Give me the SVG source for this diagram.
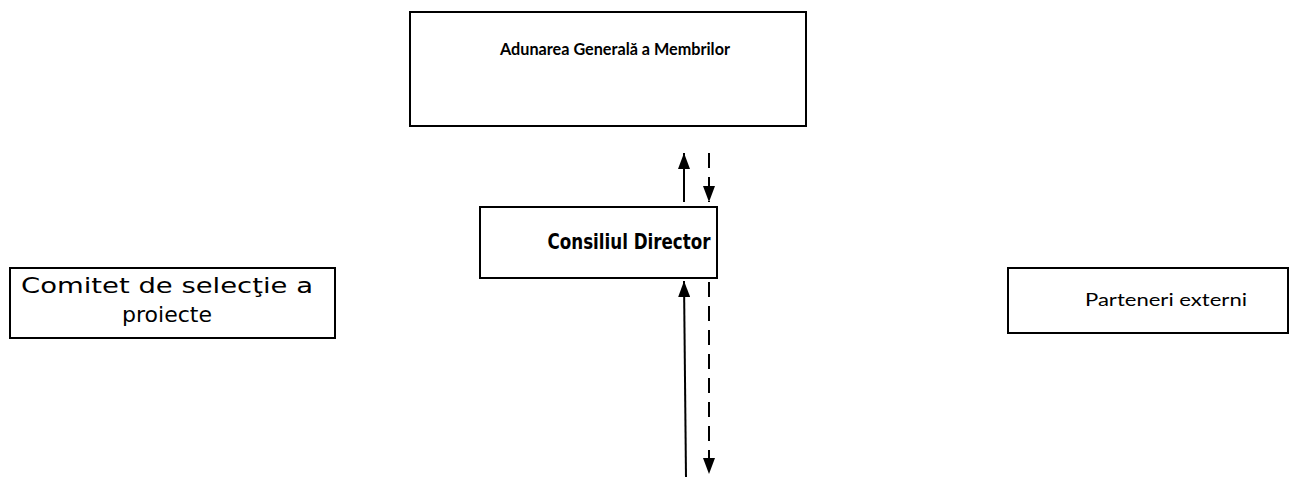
<svg xmlns="http://www.w3.org/2000/svg" width="1296" height="477" viewBox="0 0 1296 477">
  <style>
    .box { fill: #ffffff; stroke: #000000; stroke-width: 2; }
    .calibri { font-family: Lato, "Open Sans", "Liberation Sans", sans-serif; fill: #000000; }
    .tahoma { font-family: "DejaVu Sans", "Liberation Sans", sans-serif; fill: #000000; }
    .tahomab { font-family: "DejaVu Sans Condensed", "DejaVu Sans", "Liberation Sans", sans-serif; font-weight: bold; fill: #000000; }
    .solid { stroke: #000000; stroke-width: 2; fill: none; }
    .dashed { stroke: #000000; stroke-width: 2; fill: none; stroke-dasharray: 15 9; }
  </style>
  <defs>
    <marker id="head" viewBox="0 0 16 12" refX="16" refY="6" markerWidth="16" markerHeight="12" markerUnits="userSpaceOnUse" orient="auto">
      <path d="M0,0 L16,6 L0,12 Z" fill="#000000"/>
    </marker>
  </defs>
  <rect width="1296" height="477" fill="#ffffff"/>

  <g id="node-adunarea">
    <rect class="box" x="410" y="12" width="396" height="114"/>
    <text class="calibri" x="615" y="55" font-size="17" font-weight="bold" text-anchor="middle" textLength="230" lengthAdjust="spacingAndGlyphs">Adunarea Generală a Membrilor</text>
  </g>

  <g id="node-consiliul">
    <rect class="box" x="480" y="207" width="237" height="71"/>
    <text class="tahomab" x="629" y="249" font-size="21" text-anchor="middle" textLength="163" lengthAdjust="spacingAndGlyphs">Consiliul Director</text>
  </g>

  <g id="node-comitet">
    <rect class="box" x="10" y="268" width="325" height="70"/>
    <text class="tahoma" x="167" y="293" font-size="22" text-anchor="middle" textLength="292" lengthAdjust="spacingAndGlyphs">Comitet de selecţie a</text>
    <text class="tahoma" x="167" y="322" font-size="22" text-anchor="middle">proiecte</text>
  </g>

  <g id="node-parteneri">
    <rect class="box" x="1008" y="268" width="280" height="65"/>
    <text class="calibri" x="1166" y="306" font-size="18" text-anchor="middle" textLength="162" lengthAdjust="spacingAndGlyphs">Parteneri externi</text>
  </g>

  <g id="connectors">
    <line class="solid" x1="684" y1="202" x2="684" y2="153" marker-end="url(#head)"/>
    <line class="dashed" x1="709" y1="153" x2="709" y2="202" marker-end="url(#head)"/>
    <line class="solid" x1="686" y1="477" x2="684" y2="281" marker-end="url(#head)"/>
    <line class="dashed" x1="709" y1="282" x2="709" y2="474" marker-end="url(#head)"/>
  </g>
</svg>
